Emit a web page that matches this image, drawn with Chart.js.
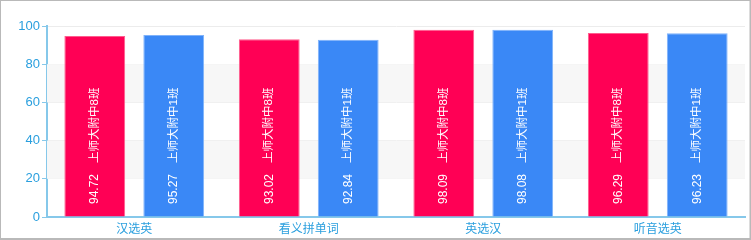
<!DOCTYPE html>
<html>
<head>
<meta charset="utf-8">
<script src="https://cdn.jsdelivr.net/npm/chart.js@4/dist/chart.umd.min.js"></script>
<style>
  html, body { margin: 0; padding: 0; background: #fff; }
  #wrap { position: relative; width: 751px; height: 240px; }
</style>
</head>
<body>
<div id="wrap"><canvas id="c" width="751" height="240"></canvas></div>
<script>
// Quiz categories and class averages
const categories = ['汉选英', '看义拼单词', '英选汉', '听音选英'];
const seriesNames = ['上师大附中8班', '上师大附中1班'];
const class8Scores = [94.72, 93.02, 98.09, 96.29];
const class1Scores = [95.27, 92.84, 98.08, 96.23];
const yTicks = [0, 20, 40, 60, 80, 100];

const AXIS_TEXT = '#2a9fde';
const AXIS_LINE = '#86c8ea';
const FONT = '"Liberation Sans", "Noto Sans CJK SC", sans-serif';

// Alternating horizontal bands behind the bars
const bandPlugin = {
  id: 'bands',
  beforeDatasetsDraw(chart) {
    const { ctx, chartArea, scales } = chart;
    const y = scales.y;
    ctx.save();
    for (let i = 0; i < yTicks.length - 1; i++) {
      if (i % 2 === 1) {
        const top = y.getPixelForValue(yTicks[i + 1]);
        const bot = y.getPixelForValue(yTicks[i]);
        ctx.fillStyle = '#f7f7f7';
        ctx.fillRect(chartArea.left, top, chartArea.right - chartArea.left, bot - top);
      }
    }
    ctx.restore();
  }
};

// Vertical value + class name written inside each bar
const barLabelPlugin = {
  id: 'barLabels',
  afterDatasetsDraw(chart) {
    const { ctx } = chart;
    const base = chart.scales.y.getPixelForValue(0);
    ctx.save();
    ctx.fillStyle = '#ffffff';
    ctx.textAlign = 'left';
    ctx.textBaseline = 'middle';
    chart.data.datasets.forEach((ds, di) => {
      chart.getDatasetMeta(di).data.forEach((bar, i) => {
        const value = ds.data[i].toFixed(2);
        ctx.save();
        ctx.translate(bar.x, base - 13);
        ctx.rotate(-Math.PI / 2);
        ctx.font = '12px ' + FONT;
        ctx.fillText(value, 0, 0);
        const w = ctx.measureText(value).width;
        ctx.font = '11.5px ' + FONT;
        ctx.fillText(ds.label, w + 11, 0);
        ctx.restore();
      });
    });
    ctx.restore();
  }
};

// Frame around the whole picture
const framePlugin = {
  id: 'frame',
  afterDraw(chart) {
    const { ctx, width, height } = chart;
    ctx.save();
    ctx.strokeStyle = '#b9b9b9';
    ctx.lineWidth = 2;
    ctx.strokeRect(0, 0, width - 0.5, height - 1);
    ctx.restore();
  }
};

new Chart(document.getElementById('c'), {
  type: 'bar',
  data: {
    labels: categories,
    datasets: [
      {
        label: seriesNames[0],
        data: class8Scores,
        backgroundColor: '#ff0055',
        borderColor: '#ff5c8d',
        borderWidth: 1,
        categoryPercentage: 0.905,
        barPercentage: 0.77
      },
      {
        label: seriesNames[1],
        data: class1Scores,
        backgroundColor: '#3a88f6',
        borderColor: '#7fb2fa',
        borderWidth: 1,
        categoryPercentage: 0.905,
        barPercentage: 0.77
      }
    ]
  },
  options: {
    responsive: false,
    animation: false,
    layout: { padding: { top: 26, right: 6, left: 0, bottom: 0 } },
    plugins: {
      legend: { display: false },
      tooltip: { enabled: false }
    },
    scales: {
      x: {
        grid: { display: false, drawTicks: false },
        border: { display: true, color: AXIS_LINE, width: 2 },
        ticks: {
          color: AXIS_TEXT,
          font: { family: FONT, size: 12 },
          padding: 5,
          maxRotation: 0
        },
        afterFit(scale) { scale.height = 23; }
      },
      y: {
        min: 0,
        max: 100,
        afterBuildTicks(scale) { scale.ticks = yTicks.map(v => ({ value: v })); },
        grid: {
          color: '#ececec',
          tickColor: AXIS_LINE,
          tickLength: 5,
          drawOnChartArea: true
        },
        border: { display: true, color: AXIS_LINE, width: 2 },
        ticks: {
          color: AXIS_TEXT,
          font: { family: FONT, size: 13 },
          padding: 2
        },
        afterFit(scale) { scale.width = 47; }
      }
    }
  },
  plugins: [bandPlugin, barLabelPlugin, framePlugin]
});
</script>
</body>
</html>
